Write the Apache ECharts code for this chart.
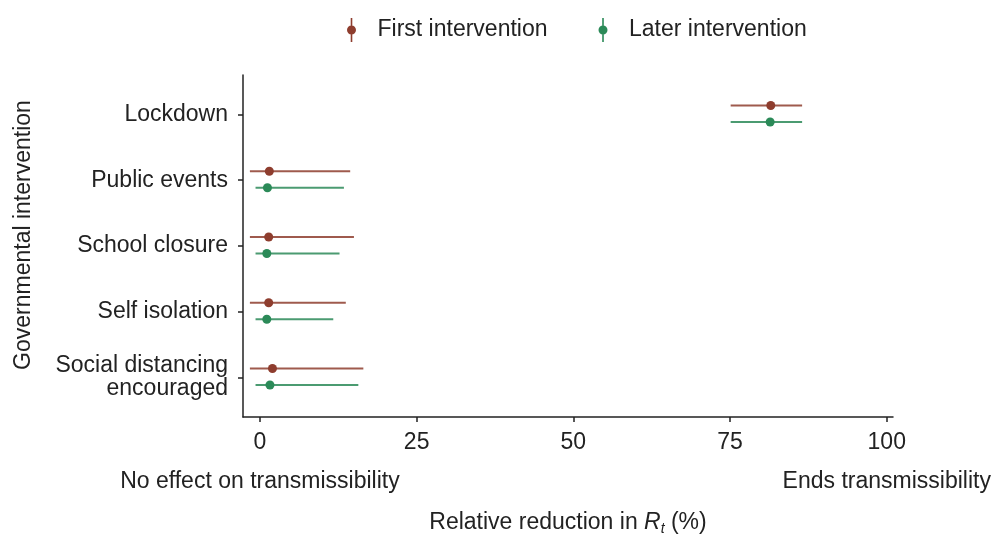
<!DOCTYPE html>
<html>
<head>
<meta charset="utf-8">
<script src="https://cdn.jsdelivr.net/npm/echarts@6/dist/echarts.min.js"></script>
<style>
  html, body { margin: 0; background: #fff; }
  #chart { width: 999px; height: 534px; }
</style>
</head>
<body>
<div id="chart"></div>
<script>
  // categories, top to bottom
  var categories = ['Lockdown', 'Public events', 'School closure', 'Self isolation', 'Social distancing\nencouraged']
  var xTicks = [0, 25, 50, 75, 100]
  var endLabels = ['No effect on transmissibility', 'Ends transmissibility']

  var firstMean = [81.5, 1.5, 1.4, 1.4, 2.0]
  var firstLow = [75.1, -1.6, -1.6, -1.6, -1.6]
  var firstHigh = [86.5, 14.4, 15.0, 13.7, 16.5]

  var laterMean = [81.4, 1.2, 1.1, 1.1, 1.6]
  var laterLow = [75.1, -0.7, -0.7, -0.7, -0.7]
  var laterHigh = [86.5, 13.4, 12.7, 11.7, 15.7]

  var font = 'Liberation Sans, Arial, Helvetica, sans-serif'
  var ink = '#222'
  var fs = 23
  // vertical bar with a dot, drawn with beziers so the box stays 10x24
  var legendIcon = 'path://M4.2,0 L5.8,0 L5.8,24 L4.2,24 Z M9.5,12 C9.5,14.485 7.485,16.5 5,16.5 C2.515,16.5 0.5,14.485 0.5,12 C0.5,9.515 2.515,7.5 5,7.5 C7.485,7.5 9.5,9.515 9.5,12 Z'

  function rows(low, high, mean) {
    return categories.map(function (c, i) {
      return [low[i], high[i], mean[i], categories.length - i]
    })
  }

  // draws one horizontal interval with its point, nudged up/down by shift px
  function renderInterval(shift) {
    return function (params, api) {
      var a = api.coord([api.value(0), api.value(3)])
      var b = api.coord([api.value(1), api.value(3)])
      var m = api.coord([api.value(2), api.value(3)])
      var color = api.visual('color')
      return {
        type: 'group',
        children: [
          { type: 'line', shape: { x1: a[0], y1: a[1] + shift, x2: b[0], y2: b[1] + shift }, style: { stroke: color, lineWidth: 2, opacity: 0.85 } },
          { type: 'circle', shape: { cx: m[0], cy: m[1] + shift, r: 4.5 }, style: { fill: color } }
        ]
      }
    }
  }

  var chart = echarts.init(document.getElementById('chart'))
  chart.setOption({
    animation: false,
    textStyle: { fontFamily: font },
    legend: {
      top: 13,
      left: 342,
      itemWidth: 10,
      itemHeight: 24,
      itemGap: 51,
      textStyle: { fontSize: fs, color: ink, fontFamily: font, padding: [0, 0, 0, 16] },
      data: [
        { name: 'First intervention', icon: legendIcon },
        { name: 'Later intervention', icon: legendIcon }
      ]
    },
    grid: { left: 243, right: 106, top: 75, bottom: 117, containLabel: false, outerBoundsMode: 'none' },
    xAxis: [
      {
        type: 'value',
        min: -2.7,
        max: 101,
        splitLine: { show: false },
        axisLine: { onZero: false, lineStyle: { color: ink, width: 1.5 } },
        axisTick: { customValues: xTicks, length: 5, lineStyle: { color: ink, width: 1.5 } },
        axisLabel: { customValues: xTicks, fontSize: fs, color: ink, margin: 14 },
        name: '{a|Relative reduction in }{r|R}{s|t}{a| (%)}',
        nameLocation: 'middle',
        nameGap: 93,
        nameTextStyle: {
          rich: {
            a: { fontSize: fs, color: ink, fontFamily: font },
            r: { fontSize: fs, color: ink, fontFamily: font, fontStyle: 'italic' },
            s: { fontSize: 14, color: ink, fontFamily: font, fontStyle: 'italic', padding: [12, 0, 0, 0] }
          }
        }
      },
      {
        type: 'value',
        position: 'bottom',
        offset: 41,
        min: -2.7,
        max: 101,
        splitLine: { show: false },
        axisLine: { show: false },
        axisTick: { show: false },
        axisLabel: {
          customValues: [0, 100],
          fontSize: fs,
          color: ink,
          margin: 12,
          formatter: function (v) { return v === 0 ? endLabels[0] : endLabels[1] }
        }
      }
    ],
    yAxis: {
      type: 'value',
      min: 0.4,
      max: 5.6,
      splitLine: { show: false },
      axisLine: { show: true, onZero: false, lineStyle: { color: ink, width: 1.5 } },
      axisTick: { show: true, customValues: [1, 2, 3, 4, 5], length: 5, lineStyle: { color: ink, width: 1.5 } },
      axisLabel: {
        customValues: [1, 2, 3, 4, 5],
        fontSize: fs,
        lineHeight: 23,
        color: ink,
        margin: 15,
        formatter: function (v) { return categories[categories.length - v] }
      },
      name: 'Governmental intervention',
      nameLocation: 'middle',
      nameRotate: 90,
      nameGap: 208,
      nameTextStyle: { fontSize: fs, color: ink, fontFamily: font, padding: [0, 0, 0, 22] }
    },
    series: [
      {
        name: 'First intervention',
        type: 'custom',
        itemStyle: { color: '#8e3d2e' },
        encode: { x: [0, 1, 2], y: 3 },
        renderItem: renderInterval(-9),
        data: rows(firstLow, firstHigh, firstMean)
      },
      {
        name: 'Later intervention',
        type: 'custom',
        itemStyle: { color: '#2b8a58' },
        encode: { x: [0, 1, 2], y: 3 },
        renderItem: renderInterval(7.5),
        data: rows(laterLow, laterHigh, laterMean)
      }
    ]
  })
</script>
</body>
</html>
